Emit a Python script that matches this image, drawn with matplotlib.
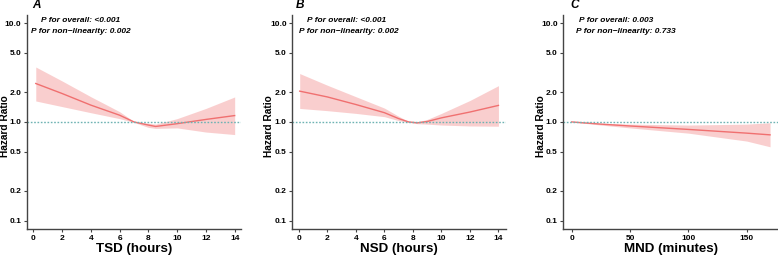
import matplotlib
matplotlib.use("Agg")
import matplotlib.pyplot as plt
import numpy as np

plt.rcParams['font.family'] = ['Liberation Sans', 'DejaVu Sans']

# ---- data ----
tsd_x = [0.17, 2, 4, 6, 7, 8, 8.5, 10, 12, 14]
tsd_hr = [2.45, 1.94, 1.48, 1.17, 1.0, 0.93, 0.90, 0.96, 1.06, 1.16]
tsd_lo = [1.63, 1.43, 1.24, 1.08, 0.99, 0.88, 0.86, 0.87, 0.79, 0.745]
tsd_hi = [3.6, 2.6, 1.80, 1.27, 1.01, 0.97, 0.95, 1.08, 1.37, 1.79]

nsd_x = [0.05, 2, 4, 6, 7, 7.7, 8.3, 9, 10, 12, 14]
nsd_hr = [2.05, 1.79, 1.50, 1.24, 1.08, 1.0, 0.98, 1.01, 1.10, 1.26, 1.47]
nsd_lo = [1.37, 1.30, 1.22, 1.13, 1.03, 0.99, 0.96, 0.95, 0.93, 0.91, 0.905]
nsd_hi = [3.09, 2.35, 1.80, 1.38, 1.14, 1.01, 1.0, 1.06, 1.22, 1.65, 2.33]

mnd_x = [0, 25, 50, 100, 150, 170]
mnd_hr = [1.0, 0.95, 0.91, 0.84, 0.77, 0.74]
mnd_lo = [1.0, 0.93, 0.87, 0.77, 0.64, 0.56]
mnd_hi = [1.0, 0.97, 0.95, 0.93, 0.95, 0.98]

yticks = [0.1, 0.2, 0.5, 1.0, 2.0, 5.0, 10.0]
ytick_labels = ["0.1", "0.2", "0.5", "1.0", "2.0", "5.0", "10.0"]

panels = [
    dict(letter="A", x=tsd_x, hr=tsd_hr, lo=tsd_lo, hi=tsd_hi,
         xlabel="TSD (hours)", xticks=[0, 2, 4, 6, 8, 10, 12, 14], xlim=(-0.44, 14.44),
         p1="P for overall: <0.001", p2="P for non\u2212linearity: 0.002",
         pos=(27, 241), txt=(80.7, 80.7), ylab=5.0, let=32),
    dict(letter="B", x=nsd_x, hr=nsd_hr, lo=nsd_lo, hi=nsd_hi,
         xlabel="NSD (hours)", xticks=[0, 2, 4, 6, 8, 10, 12, 14], xlim=(-0.47, 14.53),
         p1="P for overall: <0.001", p2="P for non\u2212linearity: 0.002",
         pos=(292.3, 506), txt=(347, 348.5), ylab=268.5, let=296),
    dict(letter="C", x=mnd_x, hr=mnd_hr, lo=mnd_lo, hi=mnd_hi,
         xlabel="MND (minutes)", xticks=[0, 50, 100, 150], xlim=(-7.2, 176.8),
         p1="P for overall: 0.003", p2="P for non\u2212linearity: 0.733",
         pos=(563.3, 778), txt=(616, 626), ylab=541.5, let=570),
]

W, H = 778, 257
fig = plt.figure(figsize=(W / 100, H / 100), dpi=100)
top, bottom = 15, 229
line_col = "#F07070"
fill_col = "#F9C6C6"
ref_col = "#6FB3B3"
spine_col = "#444444"

for p in panels:
    l, r = p["pos"]
    ax = fig.add_axes([l / W, 1 - bottom / H, (r - l) / W, (bottom - top) / H])
    ax.set_yscale("log")
    ax.set_ylim(0.0824, 12.1)
    ax.set_xlim(*p["xlim"])
    ax.fill_between(p["x"], p["lo"], p["hi"], color=fill_col, alpha=0.85, lw=0)
    ax.plot(p["x"], p["hr"], color=line_col, lw=1.0)
    ax.axhline(1.0, color=ref_col, lw=1.0, ls=(0, (1.2, 1.2)))
    ax.set_yticks(yticks)
    ax.set_yticklabels(ytick_labels)
    ax.yaxis.set_minor_locator(matplotlib.ticker.NullLocator())
    ax.set_xticks(p["xticks"])
    for s in ["top", "right"]:
        ax.spines[s].set_visible(False)
    for s in ["left", "bottom"]:
        ax.spines[s].set_color(spine_col)
        ax.spines[s].set_linewidth(1.0)
    ax.tick_params(axis="both", length=2.5, width=0.8, color=spine_col,
                   labelsize=6, pad=1.5)
    for lab in ax.get_xticklabels() + ax.get_yticklabels():
        lab.set_fontweight("bold")
    ax.set_ylabel("Hazard Ratio", fontsize=7.3, fontweight="bold")
    ax.yaxis.set_label_coords(p["ylab"] / W, 1 - 126 / H, transform=fig.transFigure)
    ax.yaxis.label.set_va("center")
    ax.set_xlabel(p["xlabel"], fontsize=9.6, fontweight="bold", labelpad=1)
    # texts in figure pixel coords
    fig.text(p["let"] / W, 1 - 5 / H, p["letter"], fontsize=8.5, fontweight="bold",
             fontstyle="italic", ha="left", va="center")
    fig.text(p["txt"][0] / W, 1 - 21 / H, p["p1"], fontsize=6, fontweight="bold",
             fontstyle="italic", ha="center", va="center")
    fig.text(p["txt"][1] / W, 1 - 31.7 / H, p["p2"], fontsize=6, fontweight="bold",
             fontstyle="italic", ha="center", va="center")

fig.savefig("out.png", dpi=100)
